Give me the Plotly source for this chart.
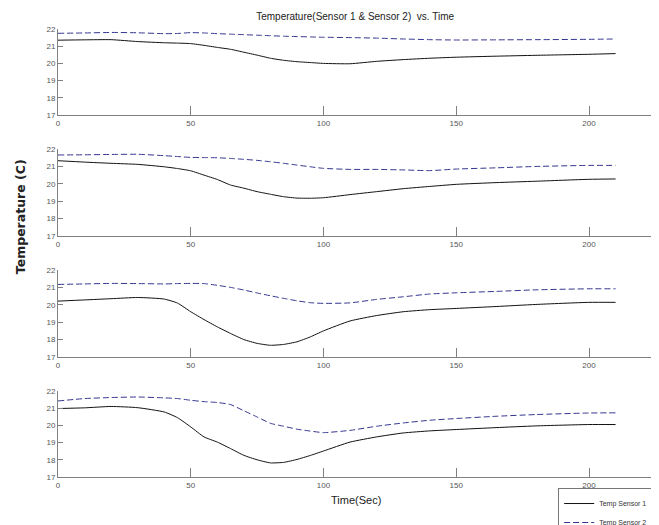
import plotly.graph_objects as go

time_s = [0, 10, 20, 30, 40, 45, 50, 55, 60, 65, 70, 75, 80, 85, 90, 95, 100,
          110, 120, 130, 140, 150, 165, 180, 200, 210]

p1_sensor1 = [21.35, 21.37, 21.38, 21.27, 21.20, 21.18, 21.15, 21.05, 20.93, 20.82, 20.65, 20.48, 20.30,
              20.18, 20.10, 20.05, 20.00, 19.98, 20.12, 20.22, 20.30, 20.36, 20.42, 20.47, 20.53, 20.57]
p1_sensor2 = [21.75, 21.77, 21.80, 21.78, 21.73, 21.74, 21.79, 21.77, 21.73, 21.70, 21.67, 21.64, 21.61,
              21.58, 21.56, 21.54, 21.52, 21.50, 21.47, 21.42, 21.38, 21.36, 21.37, 21.38, 21.40, 21.42]

p2_sensor1 = [21.33, 21.25, 21.18, 21.12, 20.98, 20.88, 20.75, 20.50, 20.25, 19.93, 19.75, 19.55, 19.40,
              19.26, 19.18, 19.17, 19.20, 19.38, 19.55, 19.72, 19.85, 19.97, 20.07, 20.15, 20.26, 20.28]
p2_sensor2 = [21.66, 21.67, 21.69, 21.70, 21.62, 21.57, 21.52, 21.51, 21.50, 21.46, 21.41, 21.35, 21.27,
              21.18, 21.08, 20.98, 20.89, 20.83, 20.83, 20.80, 20.76, 20.85, 20.92, 21.00, 21.06, 21.06]

p3_sensor1 = [20.21, 20.28, 20.35, 20.42, 20.33, 20.10, 19.60, 19.15, 18.73, 18.35, 18.00, 17.78, 17.67,
              17.72, 17.87, 18.15, 18.50, 19.07, 19.38, 19.60, 19.72, 19.79, 19.90, 20.02, 20.14, 20.14]
p3_sensor2 = [21.17, 21.20, 21.23, 21.22, 21.20, 21.22, 21.23, 21.22, 21.12, 21.00, 20.85, 20.68, 20.52,
              20.37, 20.23, 20.12, 20.08, 20.11, 20.31, 20.46, 20.62, 20.69, 20.77, 20.86, 20.92, 20.92]

p4_sensor1 = [20.98, 21.02, 21.10, 21.03, 20.78, 20.45, 19.91, 19.33, 19.03, 18.65, 18.26, 18.00, 17.82,
              17.85, 18.02, 18.25, 18.51, 19.03, 19.33, 19.56, 19.68, 19.76, 19.87, 19.97, 20.05, 20.05]
p4_sensor2 = [21.42, 21.56, 21.62, 21.65, 21.60, 21.56, 21.46, 21.38, 21.33, 21.21, 20.85, 20.49, 20.12,
              19.95, 19.78, 19.67, 19.58, 19.71, 19.95, 20.14, 20.30, 20.40, 20.53, 20.63, 20.72, 20.73]

panels = [(p1_sensor1, p1_sensor2), (p2_sensor1, p2_sensor2),
          (p3_sensor1, p3_sensor2), (p4_sensor1, p4_sensor2)]

x_ticks = [0, 50, 100, 150, 200]
y_ticks = [17, 18, 19, 20, 21, 22]
series_names = ["Temp Sensor 1", "Temp Sensor 2"]

FONT = "Liberation Sans, Arial, sans-serif"
AXIS_GRAY = "#808080"

# page body has an 8px margin; figure is sized to fill the rest of the window
W, H = 651, 517
domains = [(0.808, 1.0), (0.538, 0.732), (0.268, 0.462), (0.0, 0.192)]

fig = go.Figure()
for i, (s1, s2) in enumerate(panels):
    ax = "" if i == 0 else str(i + 1)
    fig.add_trace(go.Scatter(x=time_s, y=s1, mode="lines", name=series_names[0],
                             line=dict(color="#111111", width=1, shape="spline", smoothing=0.5),
                             xaxis="x" + ax, yaxis="y" + ax, showlegend=(i == 3)))
    fig.add_trace(go.Scatter(x=time_s, y=s2, mode="lines", name=series_names[1],
                             line=dict(color="#35358f", width=1, dash="6px,3px", shape="spline", smoothing=0.5),
                             xaxis="x" + ax, yaxis="y" + ax, showlegend=(i == 3)))

layout = dict(
    width=W, height=H,
    paper_bgcolor="white", plot_bgcolor="white",
    margin=dict(l=50, r=2, t=21, b=48, autoexpand=False),
    title=dict(text="Temperature(Sensor 1 & Sensor 2)  vs. Time",
               x=0.496, xref="paper", xanchor="center",
               y=1 - 8 / H, yref="container", yanchor="middle",
               font=dict(family=FONT, size=10, color="#222222")),
    legend=dict(x=0.835, y=-0.0246, xanchor="left", yanchor="top",
                bordercolor="#777777", borderwidth=1, bgcolor="rgba(255,255,255,0)",
                font=dict(family=FONT, size=7, color="#333333"),
                itemwidth=30, tracegroupgap=0),
    annotations=[
        dict(text="<b>Temperature (C)</b>", textangle=-90, x=-0.0634, y=0.58,
             xref="paper", yref="paper", xanchor="center", yanchor="middle", showarrow=False,
             font=dict(family="DejaVu Sans, sans-serif", size=12.5, color="#222222")),
        dict(text="Time(Sec)", x=0.4975, y=-0.0513, xref="paper", yref="paper",
             xanchor="center", yanchor="middle",
             showarrow=False, font=dict(family=FONT, size=11, color="#222222")),
    ],
)

for i, dom in enumerate(domains):
    ax = "" if i == 0 else str(i + 1)
    layout["xaxis" + ax] = dict(
        domain=[0, 1], anchor="y" + ax, range=[0, 225.6], tickvals=x_ticks,
        showline=True, linecolor=AXIS_GRAY, linewidth=1, showgrid=False, zeroline=False,
        ticks="inside", ticklen=9, tickcolor=AXIS_GRAY, tickwidth=1,
        tickfont=dict(family=FONT, size=8, color="#555555"))
    layout["yaxis" + ax] = dict(
        domain=list(dom), anchor="x" + ax, range=[17, 22], tickvals=y_ticks,
        showline=True, linecolor=AXIS_GRAY, linewidth=1, showgrid=False, zeroline=False,
        ticks="inside", ticklen=5, tickcolor=AXIS_GRAY, tickwidth=1,
        tickfont=dict(family=FONT, size=8, color="#555555"))

fig.update_layout(**layout)
fig.write_html("out.html")
